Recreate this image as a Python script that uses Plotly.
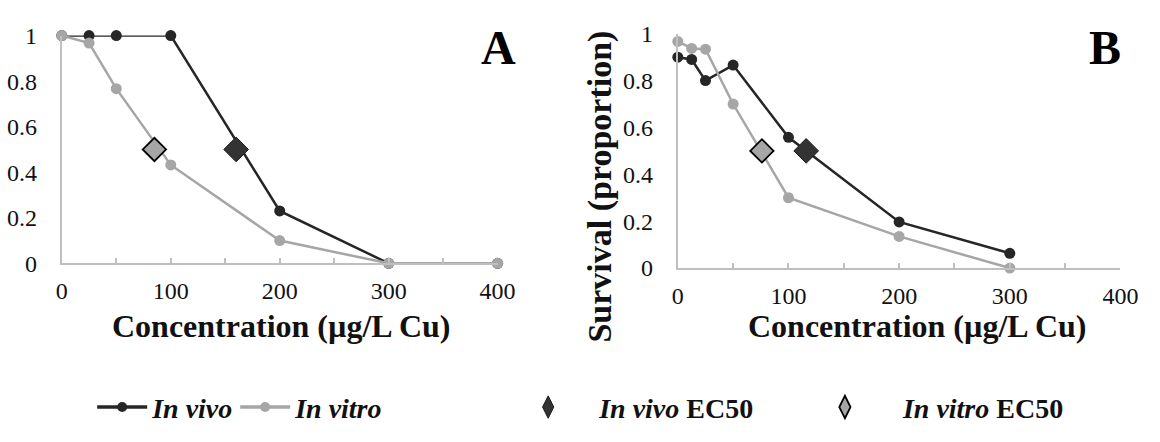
import plotly.graph_objects as go

# ---------------- data ----------------
conc_A = [0, 25, 50, 100, 200, 300, 400]
vivo_A = [1.0, 1.0, 1.0, 1.0, 0.23, 0.0, 0.0]
vitro_A = [1.0, 0.967, 0.767, 0.432, 0.10, 0.0, 0.0]
ec50_vivo_A = (160, 0.5)
ec50_vitro_A = (85, 0.5)

conc_B = [0, 12.5, 25, 50, 100, 200, 300]
vivo_B = [0.90, 0.89, 0.80, 0.866, 0.558, 0.197, 0.063]
vitro_B = [0.967, 0.937, 0.934, 0.70, 0.30, 0.135, 0.0]
ec50_vivo_B = (116, 0.5)
ec50_vitro_B = (76, 0.5)

x_tickvals = [0, 50, 100, 150, 200, 250, 300, 350, 400]
x_ticktext = ["0", "", "100", "", "200", "", "300", "", "400"]
y_tickvals = [0, 0.2, 0.4, 0.6, 0.8, 1.0]
y_ticktext = ["0", "0.2", "0.4", "0.6", "0.8", "1"]

x_title = "<b>Concentration (µg/L Cu)</b>"
y_title = "<b>Survival (proportion)</b>"
panel_labels = ["A", "B"]
legend_names = ["<b><i>In vivo</i></b>", "<b><i>In vitro</i></b>",
                "&nbsp;&nbsp;&nbsp;<b><i>In vivo</i> EC50</b>",
                "&nbsp;&nbsp;&nbsp;&nbsp;<b><i>In vitro</i> EC50</b>"]

# ---------------- style ----------------
DARK = "#262626"
GRAY = "#a6a6a6"
AXIS = "#bfbfbf"
FONT = "Liberation Serif"

fig = go.Figure()

def add_panel(xa, ya, conc, vivo, vitro, ec_vivo, ec_vitro):
    fig.add_trace(go.Scatter(
        x=conc, y=vivo, mode="lines+markers", xaxis=xa, yaxis=ya,
        showlegend=False, line=dict(color=DARK, width=2.5),
        marker=dict(color=DARK, size=11), cliponaxis=False))
    fig.add_trace(go.Scatter(
        x=conc, y=vitro, mode="lines+markers", xaxis=xa, yaxis=ya,
        showlegend=False, line=dict(color=GRAY, width=2.5),
        marker=dict(color=GRAY, size=11), cliponaxis=False))
    fig.add_trace(go.Scatter(
        x=[ec_vivo[0]], y=[ec_vivo[1]], mode="markers", xaxis=xa, yaxis=ya,
        showlegend=False,
        marker=dict(symbol="diamond", color="#333333", size=19,
                    line=dict(color="#1a1a1a", width=1)), cliponaxis=False))
    fig.add_trace(go.Scatter(
        x=[ec_vitro[0]], y=[ec_vitro[1]], mode="markers", xaxis=xa, yaxis=ya,
        showlegend=False,
        marker=dict(symbol="diamond", color=GRAY, size=18,
                    line=dict(color="#000000", width=1.8)), cliponaxis=False))

add_panel("x", "y", conc_A, vivo_A, vitro_A, ec50_vivo_A, ec50_vitro_A)
add_panel("x2", "y2", conc_B, vivo_B, vitro_B, ec50_vivo_B, ec50_vitro_B)

# legend entries (keys only)
fig.add_trace(go.Scatter(x=[None], y=[None], mode="lines+markers", name=legend_names[0],
                         legend="legend", line=dict(color=DARK, width=3.5),
                         marker=dict(color=DARK, size=10)))
fig.add_trace(go.Scatter(x=[None], y=[None], mode="lines+markers", name=legend_names[1],
                         legend="legend2", line=dict(color=GRAY, width=3.5),
                         marker=dict(color=GRAY, size=10)))
fig.add_trace(go.Scatter(x=[None], y=[None], mode="markers", name=legend_names[2],
                         legend="legend3",
                         marker=dict(symbol="diamond-tall", color="#333333", size=16,
                                     line=dict(color="#1a1a1a", width=1))))
fig.add_trace(go.Scatter(x=[None], y=[None], mode="markers", name=legend_names[3],
                         legend="legend4",
                         marker=dict(symbol="diamond-tall", color=GRAY, size=16,
                                     line=dict(color="#000000", width=1.8))))

W, H = 1160, 442

def xdom(a, b):
    return [a / W, b / W]

def ydom(top, bottom):
    return [1 - bottom / H, 1 - top / H]

xaxis_common = dict(
    range=[0, 400], tickvals=x_tickvals, ticktext=x_ticktext,
    ticks="inside", ticklen=5, tickwidth=1.5, tickcolor=AXIS,
    showline=True, linecolor=AXIS, linewidth=2, showgrid=False, zeroline=False,
    tickfont=dict(family=FONT, size=24, color="#111111"), ticklabelstandoff=5,
    fixedrange=True)
yaxis_common = dict(
    range=[0, 1], tickvals=y_tickvals, ticktext=y_ticktext, ticks="",
    showline=True, linecolor=AXIS, linewidth=2, showgrid=False, zeroline=False,
    tickfont=dict(family=FONT, size=24, color="#111111"), ticklabelstandoff=18,
    fixedrange=True)

legend_common = dict(orientation="h", yanchor="middle", y=1 - 419 / H,
                     xanchor="left", bgcolor="rgba(0,0,0,0)",
                     font=dict(family=FONT, size=28, color="#111111"),
                     itemsizing="trace", itemwidth=50)

fig.update_layout(
    width=W, height=H,
    margin=dict(l=0, r=0, t=0, b=0),
    paper_bgcolor="white", plot_bgcolor="white",
    font=dict(family=FONT, color="#111111"),
    xaxis=dict(domain=xdom(57, 502), anchor="y", **xaxis_common),
    yaxis=dict(domain=ydom(24, 266), anchor="x", **yaxis_common),
    xaxis2=dict(domain=xdom(686, 1138), anchor="y2", **xaxis_common),
    yaxis2=dict(domain=ydom(22, 271), anchor="x2", **yaxis_common),
    legend=dict(x=88 / W, **legend_common),
    legend2=dict(x=234 / W, **legend_common),
    legend3=dict(x=523 / W, **legend_common),
    legend4=dict(x=826 / W, **legend_common),
    annotations=[
        dict(text=x_title, xref="paper", yref="paper", x=281 / W, y=1 - 333 / H,
             showarrow=False, xanchor="center", yanchor="middle",
             font=dict(family=FONT, size=32, color="#111111")),
        dict(text=x_title, xref="paper", yref="paper", x=930 / W, y=1 - 333 / H,
             showarrow=False, xanchor="center", yanchor="middle",
             font=dict(family=FONT, size=32, color="#111111")),
        dict(text=y_title, xref="paper", yref="paper", x=607 / W, y=1 - 184 / H,
             showarrow=False, xanchor="center", yanchor="middle", textangle=-90,
             font=dict(family=FONT, size=34, color="#111111")),
        dict(text="<b>" + panel_labels[0] + "</b>", xref="paper", yref="paper",
             x=503 / W, y=1 - 37 / H, showarrow=False, xanchor="center", yanchor="middle",
             font=dict(family=FONT, size=48, color="#000000")),
        dict(text="<b>" + panel_labels[1] + "</b>", xref="paper", yref="paper",
             x=1122 / W, y=1 - 37 / H, showarrow=False, xanchor="center", yanchor="middle",
             font=dict(family=FONT, size=48, color="#000000")),
    ],
)

fig.write_html("out.html", config={"displayModeBar": False})
